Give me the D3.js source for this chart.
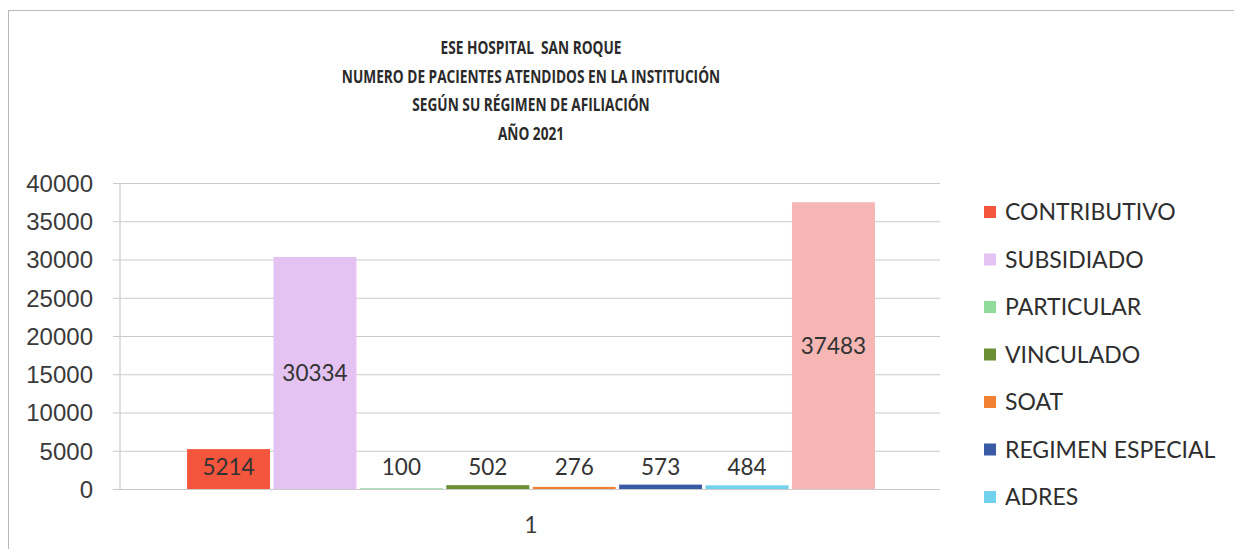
<!DOCTYPE html>
<html>
<head>
<meta charset="utf-8">
<script src="https://cdn.jsdelivr.net/npm/d3@7"></script>
<style>
  body { margin: 0; background: #fff; }
  svg { display: block; font-family: Lato, "Open Sans", sans-serif; }
  .title { white-space: pre; font-family: "Open Sans", sans-serif; }
</style>
</head>
<body>
<div id="chart"></div>
<script>
document.addEventListener("DOMContentLoaded", function(e) {
  const titleLines = ["ESE HOSPITAL  SAN ROQUE",
    "NUMERO DE PACIENTES ATENDIDOS EN LA INSTITUCIÓN",
    "SEGÚN SU RÉGIMEN DE AFILIACIÓN",
    "AÑO 2021"];
  const categories = ["1"];
  const seriesNames = ["CONTRIBUTIVO", "SUBSIDIADO", "PARTICULAR", "VINCULADO", "SOAT", "REGIMEN ESPECIAL", "ADRES", "TOTAL"];
  const seriesValues = [5214, 30334, 100, 502, 276, 573, 484, 37483];
  const seriesColors = ["#f4553d", "#e4c3f3", "#8fdc9c", "#6b8f35", "#f28032", "#3b5aa6", "#72d2ee", "#f5b6b4"];
  const legendNames = seriesNames.slice(0, 7);
  const yTicks = [0, 5000, 10000, 15000, 20000, 25000, 30000, 35000, 40000];

  const W = 1234, H = 549;
  const svg = d3.select('#chart').append('svg').attr('width', W).attr('height', H);

  // chart frame
  svg.append('rect').attr('x', 8.5).attr('y', 10.5).attr('width', 1240).attr('height', 560)
    .attr('fill', '#fff').attr('stroke', '#b8b8b8');

  // title is squeezed horizontally, the original font is a narrow one
  svg.append('g').attr('transform', 'translate(531,0) scale(0.76,1)')
    .selectAll('text').data(titleLines).enter().append('text')
    .attr('class', 'title')
    .attr('x', 0).attr('y', (d, i) => 54 + i * 28.7)
    .attr('text-anchor', 'middle')
    .attr('font-size', 18).attr('font-weight', 'bold').attr('fill', '#2a2a2a')
    .text(d => d);

  const plot = { left: 120, right: 942, top: 183, bottom: 489 };
  const y = d3.scaleLinear().domain([0, 40000]).range([plot.bottom, plot.top]);
  const x0 = d3.scaleBand().domain(categories).range([plot.left, plot.right]).paddingInner(0).paddingOuter(0.0975);
  const x1 = d3.scaleBand().domain(seriesNames).range([x0(categories[0]), x0(categories[0]) + x0.bandwidth()]).paddingInner(0.04);

  // gridlines + y labels
  const yAxis = d3.axisLeft(y).tickValues(yTicks).tickSize(-(plot.right - plot.left + 5)).tickFormat(d3.format('d'));
  const ga = svg.append('g').attr('transform', `translate(${plot.left - 7},0)`).call(yAxis);
  ga.select('.domain').remove();
  ga.selectAll('.tick line').attr('stroke', '#cacaca').attr('stroke-width', 1.2);
  ga.selectAll('.tick text').attr('font-size', 24).attr('fill', '#3a3a3a').attr('x', -20).attr('dy', '0.35em');

  // y axis line
  svg.append('line').attr('x1', plot.left).attr('x2', plot.left).attr('y1', plot.top).attr('y2', plot.bottom)
    .attr('stroke', '#cacaca').attr('stroke-width', 1.2);

  // x category label
  svg.append('g').selectAll('text').data(categories).enter().append('text')
    .attr('x', d => x0(d) + x0.bandwidth() / 2).attr('y', 533)
    .attr('text-anchor', 'middle').attr('font-size', 23).attr('fill', '#3a3a3a')
    .text(d => d);

  const bars = seriesNames.map((n, i) => ({ name: n, value: seriesValues[i], color: seriesColors[i] }));
  const g = svg.append('g');
  g.selectAll('rect').data(bars).enter().append('rect')
    .attr('x', d => x1(d.name)).attr('width', x1.bandwidth())
    .attr('y', d => y(d.value)).attr('height', d => y(0) - y(d.value))
    .attr('fill', d => d.color);

  g.selectAll('text').data(bars).enter().append('text')
    .attr('x', d => x1(d.name) + x1.bandwidth() / 2)
    .attr('y', d => Math.min(y(d.value / 2), y(0) - 22))
    .attr('dy', '0.35em').attr('text-anchor', 'middle')
    .attr('font-size', 22.5).attr('fill', '#333')
    .text(d => d.value);

  // legend
  const lg = svg.append('g').selectAll('g').data(legendNames).enter().append('g')
    .attr('transform', (d, i) => `translate(984,${212 + i * 47.5})`);
  lg.append('rect').attr('x', 0).attr('y', -6).attr('width', 12).attr('height', 12)
    .attr('fill', (d, i) => seriesColors[i]);
  lg.append('text').attr('x', 21).attr('dy', '0.35em')
    .attr('font-size', 23).attr('fill', '#2e2e2e').text(d => d);
});
</script>
</body>
</html>
